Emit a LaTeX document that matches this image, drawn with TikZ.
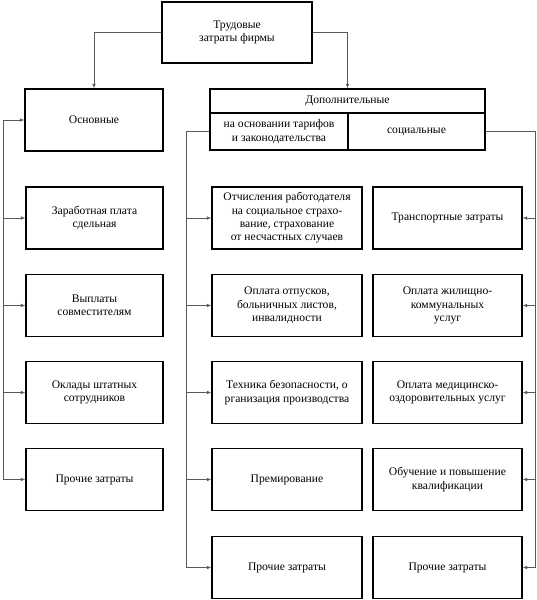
\documentclass[tikz,border=0pt]{standalone}
\usepackage{fontspec}
\setmainfont{Liberation Serif}
\usetikzlibrary{arrows.meta}
\begin{document}
\begin{tikzpicture}[x=1pt,y=-1pt,
  box/.style={draw, line width=1.3pt, align=center, inner sep=2pt,
    font=\fontsize{11.6}{13.3}\selectfont},
  lbox/.style={box, minimum width=137pt, minimum height=62pt},
  mbox/.style={box, minimum width=150pt, minimum height=62pt},
  rbox/.style={box, minimum width=149pt, minimum height=62pt},
  conn/.style={draw=black!65, line width=0.6pt},
  arr/.style={conn, -{Latex[length=4.5pt,width=3.5pt]}}]
\useasboundingbox (0,0) rectangle (537,600);

% top
\node[box, minimum width=150pt, minimum height=61pt] (top) at (237,32.5) {Трудовые\\затраты фирмы};
\node[box, minimum width=138pt, minimum height=62pt] (osn) at (94,120) {Основные};
\node[box, minimum width=275pt, minimum height=24pt] (dop) at (347.5,101) {Дополнительные};
\node[box, minimum width=138pt, minimum height=37pt] (tar) at (279,131.5) {на основании тарифов\\и законодательства};
\node[box, minimum width=137pt, minimum height=37pt] (soc) at (416.5,131.5) {социальные};

% left column
\node[lbox] (l1) at (94.5,218) {Заработная плата\\сдельная};
\node[lbox] (l2) at (94.5,305.5) {Выплаты\\совместителям};
\node[lbox] (l3) at (94.5,392.5) {Оклады штатных\\сотрудников};
\node[lbox] (l4) at (94.5,479.5) {Прочие затраты};

% middle column
\node[mbox] (m1) at (287,218) {Отчисления работодателя\\на социальное страхо-\\вание, страхование\\от несчастных случаев};
\node[mbox] (m2) at (287,305.5) {Оплата отпусков,\\больничных листов,\\инвалидности};
\node[mbox] (m3) at (287,392.5) {Техника безопасности, о\\рганизация производства};
\node[mbox] (m4) at (287,479.5) {Премирование};
\node[mbox] (m5) at (287,567.5) {Прочие затраты};

% right column
\node[rbox] (r1) at (447.5,218) {Транспортные затраты};
\node[rbox] (r2) at (447.5,305.5) {Оплата жилищно-\\коммунальных\\услуг};
\node[rbox] (r3) at (447.5,392.5) {Оплата медицинско-\\оздоровительных услуг};
\node[rbox] (r4) at (447.5,479.5) {Обучение и повышение\\квалификации};
\node[rbox] (r5) at (447.5,567.5) {Прочие затраты};

% top connectors
\draw[arr] (top.west) -| (osn.north);
\draw[arr] (top.east) -| (dop.north);

% left bus
\coordinate (lb) at (3,0);
\draw[conn] (lb |- osn.west) -- (lb |- l4.west);
\foreach \n in {osn,l1,l2,l3,l4}
  \draw[arr] (lb |- \n.west) -- (\n.west);

% middle bus
\coordinate (mb) at (186,0);
\draw[conn] (tar.west) -- (mb |- tar.west) -- (mb |- m5.west);
\foreach \n in {m1,m2,m3,m4,m5}
  \draw[arr] (mb |- \n.west) -- (\n.west);

% right bus
\coordinate (rb) at (535,0);
\draw[conn] (soc.east) -- (rb |- soc.east) -- (rb |- r5.east);
\foreach \n in {r1,r2,r3,r4,r5}
  \draw[arr] (rb |- \n.east) -- (\n.east);
\end{tikzpicture}
\end{document}
